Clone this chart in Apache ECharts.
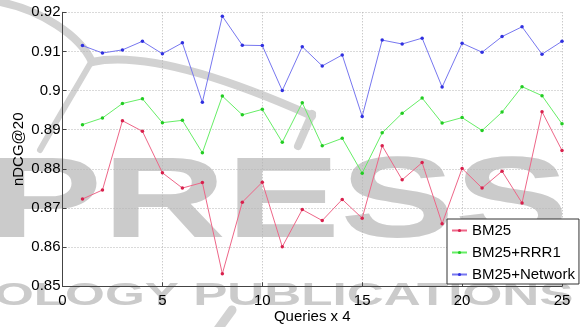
<!DOCTYPE html>
<html>
<head>
<meta charset="utf-8">
<script src="https://cdn.jsdelivr.net/npm/echarts@6/dist/echarts.min.js"></script>
<style>
  html, body { margin: 0; padding: 0; background: #fff; }
  #chart { width: 583px; height: 327px; }
</style>
</head>
<body>
<div id="chart"></div>
<script>
// Query batch index (each step = 4 queries)
const queries = [1, 2, 3, 4, 5, 6, 7, 8, 9, 10, 11, 12, 13, 14, 15, 16, 17, 18, 19, 20, 21, 22, 23, 24, 25];

// nDCG@20 per batch
const bm25 = [0.8723, 0.8746, 0.8923, 0.8896, 0.8790, 0.8751, 0.8765, 0.8532, 0.8715, 0.8766,
              0.8601, 0.8696, 0.8668, 0.8722, 0.8674, 0.8859, 0.8772, 0.8816, 0.8660, 0.8801,
              0.8751, 0.8794, 0.8713, 0.8946, 0.8847];
const bm25Rrr1 = [0.8913, 0.8930, 0.8967, 0.8979, 0.8918, 0.8924, 0.8841, 0.8986, 0.8938, 0.8952,
                  0.8868, 0.8969, 0.8859, 0.8878, 0.8789, 0.8892, 0.8942, 0.8981, 0.8917, 0.8931,
                  0.8898, 0.8945, 0.9010, 0.8987, 0.8915];
const bm25Network = [0.9115, 0.9096, 0.9104, 0.9126, 0.9094, 0.9122, 0.8970, 0.9190, 0.9116, 0.9115,
                     0.9000, 0.9112, 0.9063, 0.9091, 0.8934, 0.9129, 0.9119, 0.9134, 0.9009, 0.9121,
                     0.9098, 0.9138, 0.9163, 0.9093, 0.9126];

const seriesNames = ['BM25', 'BM25+RRR1', 'BM25+Network'];
const xTicks = { min: 0, max: 25, step: 5 };
const yTicks = { min: 0.85, max: 0.92, step: 0.01 };

const FONT = '"Liberation Sans", Arial, Helvetica, sans-serif';
const chart = echarts.init(document.getElementById('chart'), null, { renderer: 'canvas' });

function lineSeries(name, values, lineColor, dotColor) {
  return {
    name: name,
    type: 'line',
    data: queries.map((q, i) => [q, values[i]]),
    symbol: 'circle',
    symbolSize: 3.5,
    showSymbol: true,
    lineStyle: { color: lineColor, width: 1 },
    itemStyle: { color: dotColor, borderWidth: 0 },
    emphasis: { disabled: true },
    animation: false,
    z: 3
  };
}

const WM = '#cbcbcb';
const wmStroke = (w) => ({ stroke: '#d2d2d2', lineWidth: w, fill: null, lineCap: 'round' });

chart.setOption({
  backgroundColor: '#fff',
  animation: false,
  textStyle: { fontFamily: FONT },
  graphic: [
    // publisher watermark behind the plot
    {
      type: 'text', x: -12, y: 148, z: -10, scaleX: 1.49,
      style: { text: 'PRESS', font: 'bold 115px ' + FONT, fill: WM, textVerticalAlign: 'top' }
    },
    {
      type: 'text', x: -6, y: 280, z: -10, scaleX: 1.6,
      style: { text: 'OLOGY PUBLICATIONS', font: 'bold 32px ' + FONT, fill: WM, textVerticalAlign: 'top' }
    },
    {
      type: 'bezierCurve', z: -10,
      shape: { x1: 0, y1: 2, cpx1: 40, cpy1: 10, cpx2: 80, cpy2: 35, x2: 92, y2: 62 },
      style: wmStroke(8)
    },
    {
      type: 'bezierCurve', z: -10,
      shape: { x1: 92, y1: 62, cpx1: 140, cpy1: 52, cpx2: 220, cpy2: 75, x2: 312, y2: 116 },
      style: wmStroke(8)
    },
    {
      type: 'bezierCurve', z: -10,
      shape: { x1: 90, y1: 64, cpx1: 75, cpy1: 90, cpx2: 60, cpy2: 115, x2: 40, y2: 150 },
      style: wmStroke(6)
    },
    {
      type: 'line', z: -10,
      shape: { x1: 312, y1: 114, x2: 298, y2: 146 },
      style: wmStroke(8)
    },
    {
      type: 'line', z: -10,
      shape: { x1: 232, y1: 310, x2: 216, y2: 332 },
      style: wmStroke(9)
    }
  ],
  grid: {
    left: 62.5, top: 12.3, width: 499.5, height: 274,
    containLabel: false,
    outerBoundsMode: 'none'
  },
  legend: {
    orient: 'vertical',
    left: 447,
    top: 219,
    padding: [4, 4, 2, 4],
    itemGap: 7,
    itemWidth: 15,
    itemHeight: 4,
    backgroundColor: '#fff',
    borderColor: '#333',
    borderWidth: 1,
    borderRadius: 0,
    textStyle: { fontSize: 15, color: '#000', fontFamily: FONT },
    data: seriesNames.map(n => ({ name: n })),
    z: 10
  },
  xAxis: {
    type: 'value',
    min: xTicks.min,
    max: xTicks.max,
    interval: xTicks.step,
    name: 'Queries x 4',
    nameLocation: 'middle',
    nameGap: 23,
    nameMoveOverlap: false,
    nameTextStyle: { fontSize: 15, color: '#000', fontFamily: FONT },
    axisLine: { show: true, onZero: false, lineStyle: { color: '#444', width: 1 } },
    axisTick: { show: true, inside: true, length: 4, lineStyle: { color: '#444' } },
    axisLabel: { fontSize: 15, color: '#000', margin: 7, fontFamily: FONT },
    splitLine: { show: true, lineStyle: { color: '#b4b4b4', type: [1, 2], width: 1 } }
  },
  yAxis: {
    type: 'value',
    min: yTicks.min,
    max: yTicks.max,
    interval: yTicks.step,
    name: 'nDCG@20',
    nameLocation: 'middle',
    nameGap: 36,
    nameMoveOverlap: false,
    nameRotate: 90,
    nameTextStyle: { fontSize: 15, color: '#000', fontFamily: FONT },
    axisLine: { show: true, onZero: false, lineStyle: { color: '#444', width: 1 } },
    axisTick: { show: true, inside: true, length: 4, lineStyle: { color: '#444' } },
    axisLabel: {
      fontSize: 15, color: '#000', margin: 2, fontFamily: FONT,
      formatter: v => String(+v.toFixed(2))
    },
    splitLine: { show: true, lineStyle: { color: '#b4b4b4', type: [1, 2], width: 1 } }
  },
  series: [
    lineSeries(seriesNames[0], bm25, '#ee6688', '#d8204c'),
    lineSeries(seriesNames[1], bm25Rrr1, '#66ee66', '#22cc22'),
    lineSeries(seriesNames[2], bm25Network, '#7777f0', '#3030e0')
  ]
});
</script>
</body>
</html>
